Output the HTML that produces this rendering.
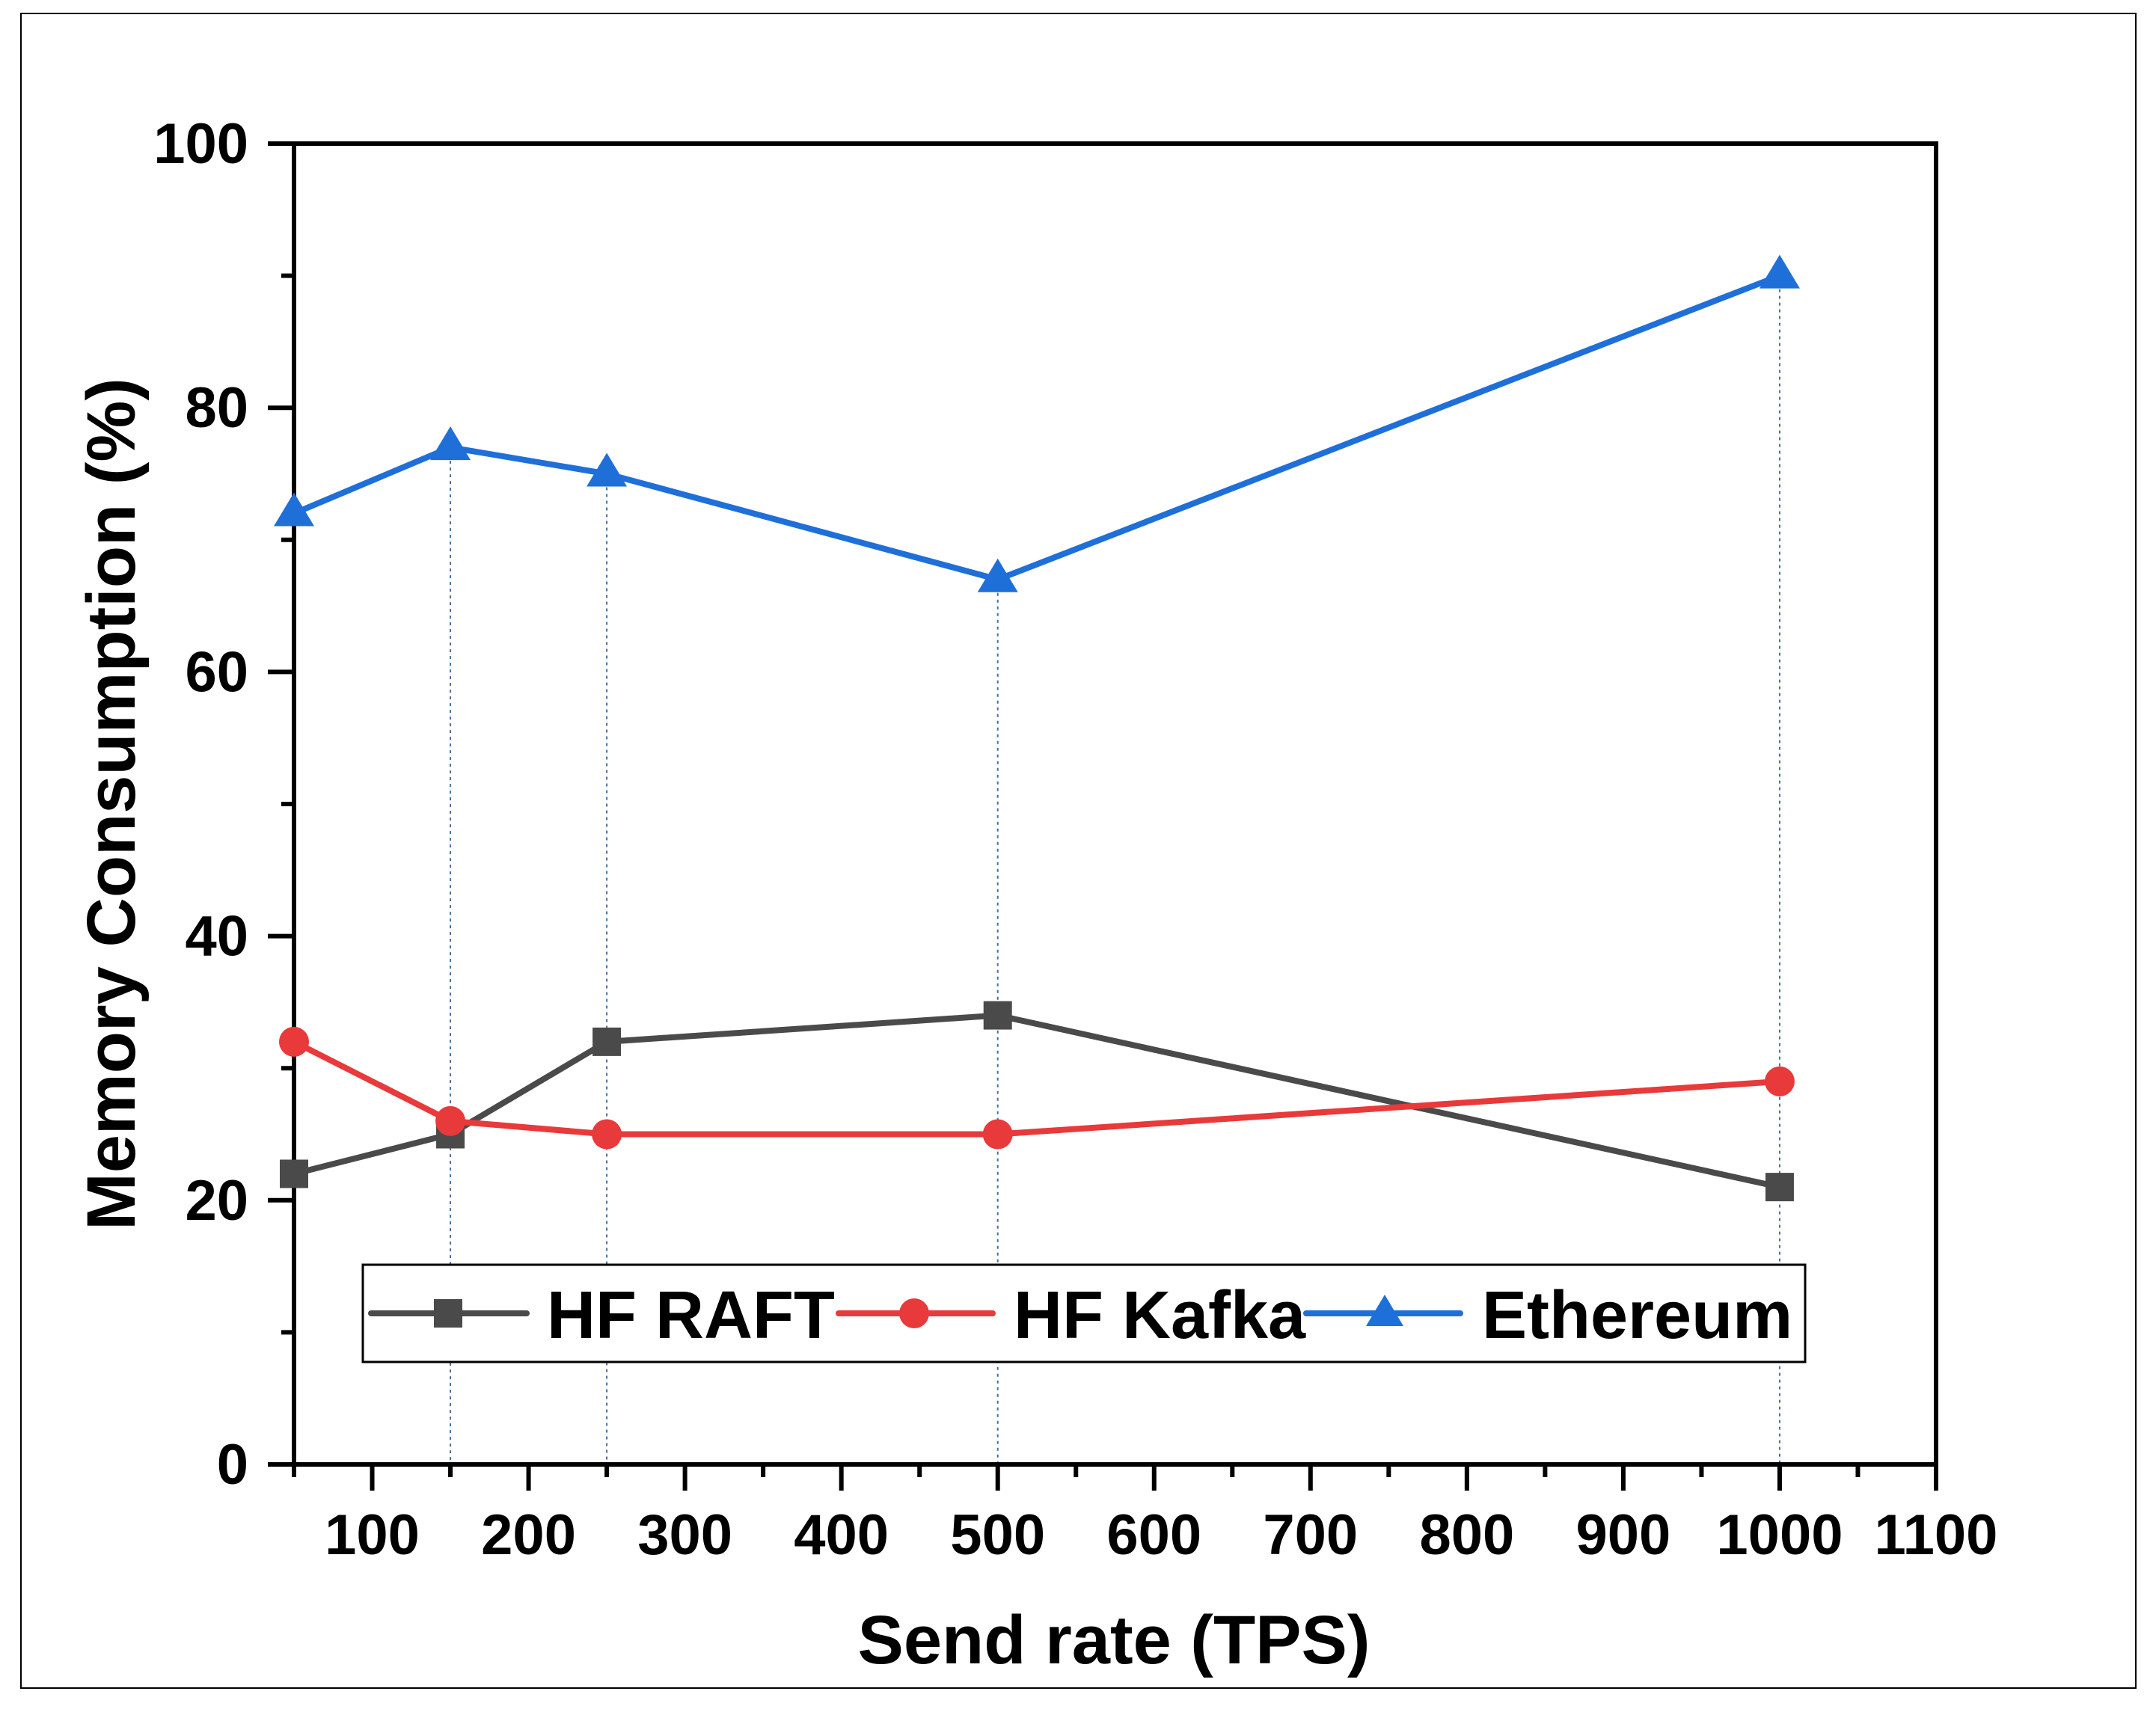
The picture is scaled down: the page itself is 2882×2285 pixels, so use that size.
<!DOCTYPE html>
<html><head><meta charset="utf-8"><style>
html,body{margin:0;padding:0;background:#fff;}
svg{display:block;font-family:"Liberation Sans",Arial,sans-serif;font-weight:bold;}
</style></head><body>
<svg id="chart" width="2882" height="2285" viewBox="0 0 2882 2285" xmlns="http://www.w3.org/2000/svg">
<rect x="28" y="18" width="2827" height="2239" fill="#fff" stroke="#000" stroke-width="2"/>
<g id="grid"></g>
<g id="axes"></g>
<g id="series"></g>
<text x="1489" y="2224" font-size="92" text-anchor="middle">Send rate (TPS)</text>
<text transform="translate(180,1075) rotate(-90)" font-size="92" text-anchor="middle">Memory Consumption (%)</text>
<g>
<rect x="485" y="1691" width="1928" height="130" fill="#fff" stroke="#000" stroke-width="3"/>
<g>
<line x1="496" y1="1756" x2="704" y2="1756" stroke="#4a4a4a" stroke-width="8" stroke-linecap="round"/>
<rect x="580" y="1737" width="38" height="38" fill="#4a4a4a"/>
<text x="731" y="1789" font-size="90">HF RAFT</text></g>
<g>
<line x1="1121" y1="1756" x2="1327" y2="1756" stroke="#e8393b" stroke-width="8" stroke-linecap="round"/>
<circle cx="1222" cy="1756" r="20" fill="#e8393b"/>
<text x="1355" y="1789" font-size="90">HF Kafka</text></g>
<g>
<line x1="1746" y1="1756" x2="1952" y2="1756" stroke="#1f6fd9" stroke-width="8" stroke-linecap="round"/>
<polygon points="1851,1731 1876,1773 1826,1773" fill="#1f6fd9"/>
<text x="1981" y="1789" font-size="90">Ethereum</text></g>
</g>
</svg>
<script>
const xValues = [50, 150, 250, 500, 1000];
const raftValues = [22, 25, 32, 34, 21];
const kafkaValues = [32, 26, 25, 25, 29];
const ethValues = [72, 77, 75, 67, 90];
const xTickLabels = [100, 200, 300, 400, 500, 600, 700, 800, 900, 1000, 1100];
const yTickLabels = [0, 20, 40, 60, 80, 100];

const NS = 'http://www.w3.org/2000/svg';
const X0 = 393, X1 = 2588, Y0 = 1958, Y1 = 192;
const xMin = 50, xMax = 1100, yMin = 0, yMax = 100;
function sx(v){ return X0 + (v - xMin) / (xMax - xMin) * (X1 - X0); }
function sy(v){ return Y0 - (v - yMin) / (yMax - yMin) * (Y0 - Y1); }
function mk(tag, attrs, parent){ const e = document.createElementNS(NS, tag); for (const k in attrs) e.setAttribute(k, attrs[k]); parent.appendChild(e); return e; }

const grid = document.getElementById('grid');
const axes = document.getElementById('axes');
const series = document.getElementById('series');

xValues.forEach((x, i) => {
  const top = Math.min(sy(raftValues[i]), sy(kafkaValues[i]), sy(ethValues[i]));
  const l = mk('line', {x1: sx(x), x2: sx(x), y1: top, y2: Y0, stroke: '#4a6f9a', 'stroke-width': 2, 'stroke-dasharray': '4 5'}, grid);
  
  
});

const frame = mk('rect', {x: X0, y: Y1, width: X1 - X0, height: Y0 - Y1, fill: 'none', stroke: '#000', 'stroke-width': 6}, axes);



for (let v = 50; v <= 1100; v += 50) {
  const major = v % 100 === 0;
  const t = mk('line', {x1: sx(v), x2: sx(v), y1: Y0, y2: Y0 + (major ? 35 : 17), stroke: '#000', 'stroke-width': 6}, axes);
  
  
}
xTickLabels.forEach(v => {
  const t = mk('text', {x: sx(v), y: 2078, 'font-size': 76, 'text-anchor': 'middle'}, axes);
  t.textContent = v;
  
  
});
for (let v = 0; v <= 100; v += 10) {
  const major = v % 20 === 0;
  const t = mk('line', {x1: X0, x2: X0 - (major ? 35 : 17), y1: sy(v), y2: sy(v), stroke: '#000', 'stroke-width': 6}, axes);
  
  
}
yTickLabels.forEach(v => {
  const t = mk('text', {x: 332, y: sy(v) + 26, 'font-size': 76, 'text-anchor': 'end'}, axes);
  t.textContent = v;
  
  
});

function drawSeries(vals, color, shape, name){
  const g = mk('g', {}, series);
  
  
  const pts = xValues.map((x, i) => sx(x) + ',' + sy(vals[i])).join(' ');
  const pl = mk('polyline', {points: pts, fill: 'none', stroke: color, 'stroke-width': 8, 'stroke-linejoin': 'round'}, g);
  
  
  xValues.forEach((x, i) => {
    const cx = sx(x), cy = sy(vals[i]);
    let m;
    if (shape === 'square') m = mk('rect', {x: cx - 19, y: cy - 19, width: 38, height: 38, fill: color}, g);
    else if (shape === 'circle') m = mk('circle', {cx: cx, cy: cy, r: 20, fill: color}, g);
    else m = mk('polygon', {points: `${cx},${cy - 28} ${cx + 27},${cy + 17} ${cx - 27},${cy + 17}`, fill: color}, g);
    
    
  });
}
drawSeries(raftValues, '#4a4a4a', 'square', 'hf-raft');
drawSeries(kafkaValues, '#e8393b', 'circle', 'hf-kafka');
drawSeries(ethValues, '#1f6fd9', 'triangle', 'ethereum');
</script>
</body></html>
